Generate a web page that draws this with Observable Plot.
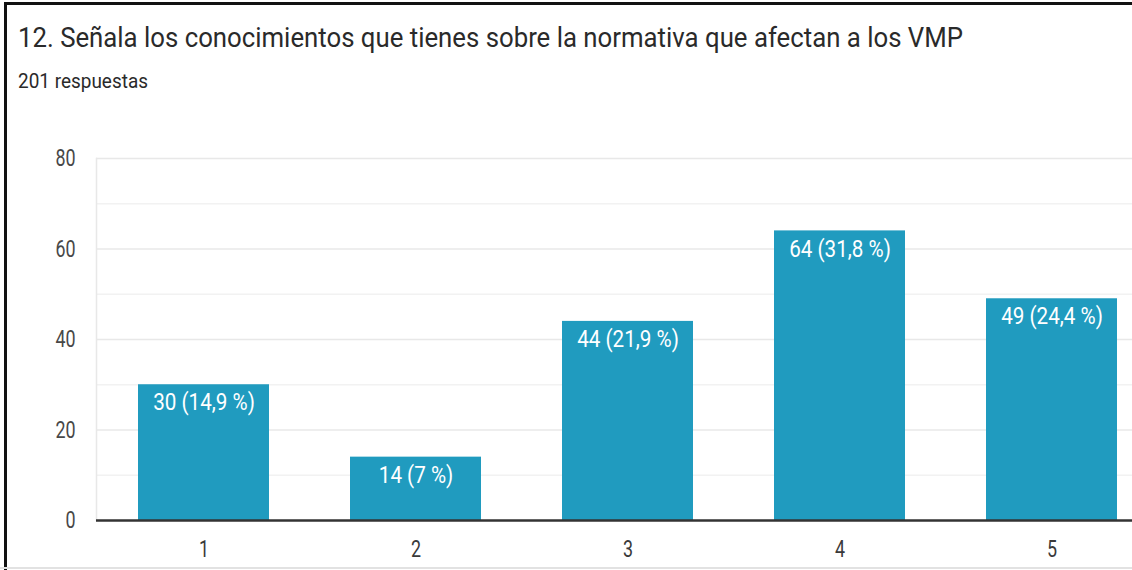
<!DOCTYPE html>
<html>
<head>
<meta charset="utf-8">
<script src="https://cdn.jsdelivr.net/npm/d3@7"></script>
<script src="https://cdn.jsdelivr.net/npm/@observablehq/plot@0.6"></script>
<style>
  html, body { margin: 0; padding: 0; background: #fff; overflow: hidden; }
  #wrap { position: relative; width: 1132px; height: 570px; overflow: hidden; background: #fff; font-family: Roboto, sans-serif; }
  #bl { position: absolute; left: 4px; top: 2px; width: 3px; height: 568px; background: #111; }
  #bt { position: absolute; left: 4px; top: 2px; width: 1128px; height: 3px; background: #111; }
  #bb { position: absolute; left: 0; top: 567px; width: 1132px; height: 2px; background: #e2e2e2; }
  .hdr { position: absolute; white-space: nowrap; transform-origin: 0 0; }
  #title { left: 18px; top: 22px; font-size: 28px; line-height: 32px; color: #2a2a2a; }
  #sub { left: 18px; top: 70px; font-size: 21px; line-height: 22px; color: #2a2a2a; }
  #chart { position: absolute; left: 0; top: 100px; }
</style>
</head>
<body>
<div id="wrap">
  <div id="title" class="hdr">12. Señala los conocimientos que tienes sobre la normativa que afectan a los VMP</div>
  <div id="sub" class="hdr">201 respuestas</div>
  <div id="chart"></div>
  <div id="bl"></div><div id="bt"></div><div id="bb"></div>
</div>
<script>
const categories = ["1", "2", "3", "4", "5"];
const counts = [30, 14, 44, 64, 49];
const labels = ["30 (14,9 %)", "14 (7 %)", "44 (21,9 %)", "64 (31,8 %)", "49 (24,4 %)"];
const yTicks = [0, 20, 40, 60, 80];
const yMinor = [10, 30, 50, 70];

const data = categories.map((c, i) => ({cat: c, n: counts[i], label: labels[i]}));

function fit(id, w) {
  const el = document.getElementById(id);
  const r = el.getBoundingClientRect().width;
  el.style.transform = `scaleX(${w / r})`;
}
fit("title", 945);
fit("sub", 130);

const chart = Plot.plot({
  width: 1132,
  height: 470,
  marginTop: 58,
  marginBottom: 50,
  marginLeft: 96,
  marginRight: 0,
  style: {fontFamily: "Roboto, sans-serif", background: "white", overflow: "hidden"},
  x: {domain: categories, range: [96, 1158], paddingInner: 0.383, paddingOuter: 0.19, label: null},
  y: {domain: [0, 80], label: null},
  marks: [
    Plot.ruleY(yMinor, {stroke: "#f2f2f2", strokeWidth: 1.5}),
    Plot.ruleY(yTicks.filter(d => d > 0), {stroke: "#e8e8e8", strokeWidth: 1.5}),
    Plot.frame({anchor: "left", stroke: "#e8e8e8", strokeWidth: 1.5}),
    Plot.barY(data, {x: "cat", y: "n", fill: "#209bbf"}),
    Plot.text(data, {x: "cat", y: "n", text: "label", fill: "white", fontSize: 24, dy: 18, lineAnchor: "middle", className: "barlabel"}),
    Plot.ruleY([0], {stroke: "#333", strokeWidth: 2.5}),
    Plot.axisY(yTicks, {tickSize: 0, tickPadding: 21, fontSize: 24, fill: "#484848", label: null}),
    Plot.axisX({tickSize: 0, tickPadding: 19, fontSize: 24, fill: "#3a3a3a", label: null})
  ]
});
document.getElementById("chart").appendChild(chart);

// horizontally condense chart text like the reference (narrow rendering)
chart.querySelectorAll("text").forEach(t => {
  const w = t.getComputedTextLength();
  const isBar = t.closest(".barlabel") !== null;
  const squeeze = isBar ? 0.86 : 0.745;
  if (w > 0) {
    t.setAttribute("textLength", (w * squeeze).toFixed(2));
    t.setAttribute("lengthAdjust", "spacingAndGlyphs");
  }
});
</script>
</body>
</html>
